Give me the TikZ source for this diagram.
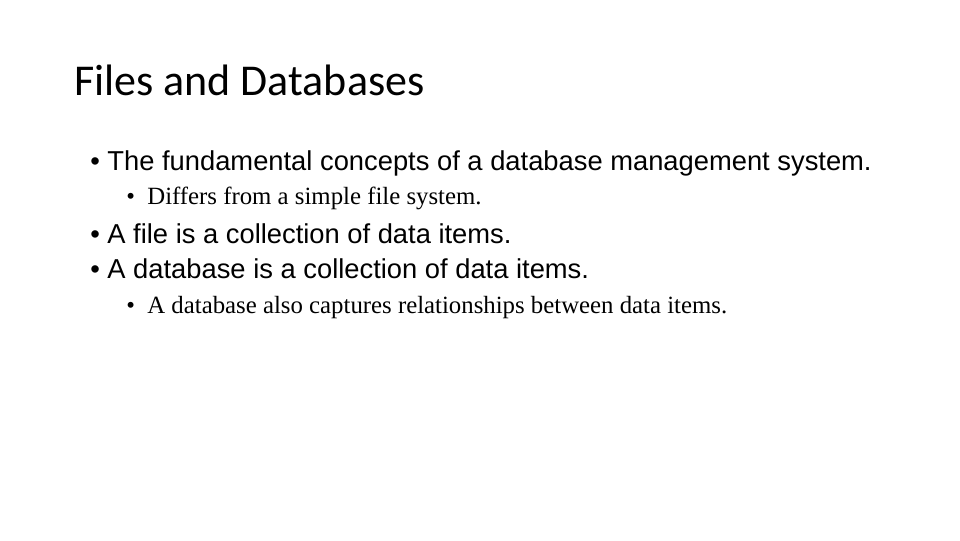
\documentclass[tikz,border=0pt]{standalone}
\usepackage{fontspec}
\setmainfont{Liberation Sans}
\newfontfamily\titlefont{Carlito}
\newfontfamily\serffont{Liberation Serif}
\begin{document}
\begin{tikzpicture}[x=0.75pt,y=-0.75pt,
  txt/.style={anchor=base west,inner sep=0pt},
  lvlone/.style={txt,font=\fontsize{20.5}{24}\selectfont},
  lvltwo/.style={txt,font=\serffont\fontsize{18.6}{22}\selectfont}]
\useasboundingbox[fill=white] (0,0) rectangle (960,540);
\node[txt,font=\titlefont\fontsize{33}{40}\selectfont] (title) at (74,95) {Files and Databases};
\node[lvlone] (b1) at (90,170) {• The fundamental concepts of a database management system.};
\node[lvltwo] (s1) at (126,204) {•\ \ Differs from a simple file system.};
\node[lvlone] (b2) at (90,243) {• A file is a collection of data items.};
\node[lvlone] (b3) at (90,278) {• A database is a collection of data items.};
\node[lvltwo] (s2) at (126,313) {•\ \ A database also captures relationships between data items.};
\end{tikzpicture}
\end{document}
